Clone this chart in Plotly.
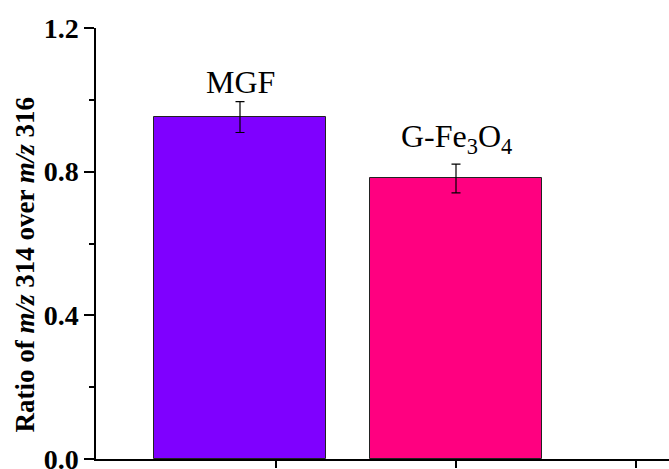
import plotly.graph_objects as go

categories = ["MGF", "G-Fe<sub>3</sub>O<sub>4</sub>"]
x_pos = [0.8, 2.0]
values = [0.952, 0.781]
errors = [0.043, 0.040]
colors = ["#7F00FF", "#FF0080"]
y_ticks = [0.0, 0.4, 0.8, 1.2]
y_title = "Ratio of <i>m/z</i> 314 over <i>m/z</i> 316"

fig = go.Figure()
fig.add_trace(go.Bar(
    x=x_pos, y=values, width=0.96,
    marker=dict(color=colors, line=dict(color="#222222", width=1)),
    error_y=dict(type="data", array=errors, color="black", thickness=1.2, width=4.5),
    showlegend=False,
))

label_y = [1.05, 0.893]
for xp, lab, ly in zip(x_pos, categories, label_y):
    fig.add_annotation(x=xp, y=ly, text=lab, showarrow=False,
                       font=dict(family="Liberation Serif", size=32, color="black"),
                       xanchor="center", yanchor="middle")

fig.add_annotation(xref="paper", yref="paper", x=-0.124, y=0.451, text=y_title,
                   textangle=-90, showarrow=False, xanchor="center", yanchor="middle",
                   font=dict(family="Liberation Serif", size=27, color="black", weight="bold"))

fig.update_layout(
    width=669, height=469,
    margin=dict(l=96, r=0, t=28, b=10, autoexpand=False),
    plot_bgcolor="white", paper_bgcolor="white",
    font=dict(family="Liberation Serif", color="black"),
    bargap=0,
)
fig.update_xaxes(
    range=[0, 573 / 180], tickvals=[1, 2, 3], showticklabels=False,
    ticks="outside", ticklen=7, tickwidth=1.5, tickcolor="black",
    showline=True, linecolor="black", linewidth=1.5,
    showgrid=False, zeroline=False, automargin=False,
)
fig.update_yaxes(
    range=[0, 1.2], tickvals=y_ticks, tickformat=".1f",
    ticks="outside", ticklen=10, tickwidth=1.5, tickcolor="black",
    minor=dict(dtick=0.2, ticks="outside", ticklen=5, tickwidth=1.5, tickcolor="black", showgrid=False),
    showline=True, linecolor="black", linewidth=1.5,
    showgrid=False, zeroline=False, automargin=False,
    ticklabeloverflow="allow",
    tickfont=dict(family="Liberation Serif", size=28, color="black", weight="bold"),
)

fig.write_html("out.html", config={"displayModeBar": False},
               post_script="document.body.style.margin='0px';")
